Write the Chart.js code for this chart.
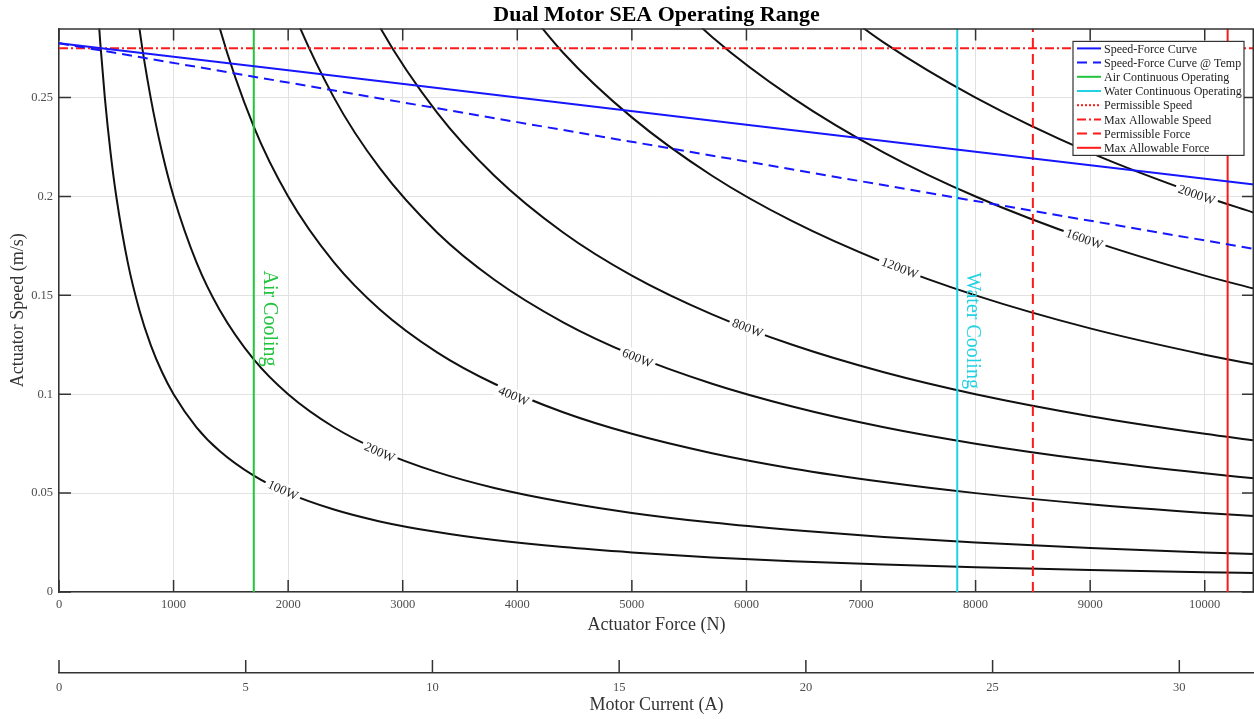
<!DOCTYPE html>
<html>
<head>
<meta charset="utf-8">
<title>Dual Motor SEA Operating Range</title>
<script src="https://cdn.jsdelivr.net/npm/chart.js@4.4.1/dist/chart.umd.min.js"></script>
<style>
  html, body { margin: 0; padding: 0; background: #fff; }
</style>
</head>
<body>
<canvas id="seaChart" width="1254" height="719"></canvas>
<script>
const SERIF = "'Liberation Serif', 'Times New Roman', serif";

// axis ranges + ticks
const forceMax = 10430;
const speedMax = 0.285;
const currentMax = 32;
const forceTicks = [0, 1000, 2000, 3000, 4000, 5000, 6000, 7000, 8000, 9000, 10000];
const speedTicks = [0, 0.05, 0.1, 0.15, 0.2, 0.25];
const currentTicks = [0, 5, 10, 15, 20, 25, 30];

// speed-force curves
const curveForce = [0, 2000, 4000, 6000, 8000, 10430];
const curveSpeed = [0.2775, 0.2638, 0.2500, 0.2363, 0.2226, 0.2060];
const curveSpeedTemp = [0.2775, 0.2576, 0.2376, 0.2177, 0.1977, 0.1735];

// limits
const airForce = 1700;
const waterForce = 7840;
const permissibleForce = 8500;
const maxForce = 10200;
const maxSpeed = 0.275;

// constant power curves
const forceGrid = [330, 360, 400, 450, 500, 600, 700, 800, 900, 1000, 1200, 1400, 1700, 2000,
  2400, 2800, 3300, 3800, 4400, 5000, 5700, 6400, 7200, 8000, 9000, 10000, 10430];
const speed100W = [0.3030, 0.2778, 0.2500, 0.2222, 0.2000, 0.1667, 0.1429, 0.1250, 0.1111, 0.1000,
  0.0833, 0.0714, 0.0588, 0.0500, 0.0417, 0.0357, 0.0303, 0.0263, 0.0227, 0.0200, 0.0175, 0.0156,
  0.0139, 0.0125, 0.0111, 0.0100, 0.0096];
const speed200W = [null, null, null, null, null, 0.3333, 0.2857, 0.2500, 0.2222, 0.2000, 0.1667,
  0.1429, 0.1176, 0.1000, 0.0833, 0.0714, 0.0606, 0.0526, 0.0455, 0.0400, 0.0351, 0.0313, 0.0278,
  0.0250, 0.0222, 0.0200, 0.0192];
const speed400W = [null, null, null, null, null, null, null, null, null, null, 0.3333, 0.2857,
  0.2353, 0.2000, 0.1667, 0.1429, 0.1212, 0.1053, 0.0909, 0.0800, 0.0702, 0.0625, 0.0556, 0.0500,
  0.0444, 0.0400, 0.0384];
const speed600W = [null, null, null, null, null, null, null, null, null, null, null, null, 0.3529,
  0.3000, 0.2500, 0.2143, 0.1818, 0.1579, 0.1364, 0.1200, 0.1053, 0.0938, 0.0833, 0.0750, 0.0667,
  0.0600, 0.0575];
const speed800W = [null, null, null, null, null, null, null, null, null, null, null, null, null,
  null, 0.3333, 0.2857, 0.2424, 0.2105, 0.1818, 0.1600, 0.1404, 0.1250, 0.1111, 0.1000, 0.0889,
  0.0800, 0.0767];
const speed1200W = [null, null, null, null, null, null, null, null, null, null, null, null, null,
  null, null, null, null, 0.3158, 0.2727, 0.2400, 0.2105, 0.1875, 0.1667, 0.1500, 0.1333, 0.1200,
  0.1151];
const speed1600W = [null, null, null, null, null, null, null, null, null, null, null, null, null,
  null, null, null, null, null, null, 0.3200, 0.2807, 0.2500, 0.2222, 0.2000, 0.1778, 0.1600,
  0.1534];
const speed2000W = [null, null, null, null, null, null, null, null, null, null, null, null, null,
  null, null, null, null, null, null, null, null, 0.3125, 0.2778, 0.2500, 0.2222, 0.2000, 0.1918];

const powerLabels = ["100W", "200W", "400W", "600W", "800W", "1200W", "1600W", "2000W"];
const powerSpeeds = [speed100W, speed200W, speed400W, speed600W, speed800W, speed1200W, speed1600W, speed2000W];
// where the in-line labels sit
const labelForce = [1955, 2800, 3970, 5050, 6010, 7340, 8950, 9930];
const labelSpeed = [0.0517, 0.0709, 0.0993, 0.1185, 0.1337, 0.1640, 0.1787, 0.2011];

const BLUE = "#1616ff";
const GREEN = "#22c43c";
const CYAN = "#22d2e4";
const RED = "#ff1a1a";

function pts(xs, ys) {
  return xs.map((x, i) => ({ x: x, y: ys[i] }));
}
function vline(x) {
  return [{ x: x, y: 0 }, { x: x, y: speedMax }];
}
function hline(y) {
  return [{ x: 0, y: y }, { x: forceMax, y: y }];
}
function line(label, data, color, dash) {
  return {
    label: label, data: data, showLine: true, borderColor: color, borderWidth: 2,
    borderDash: dash || [], pointRadius: 0, xAxisID: "x", yAxisID: "y",
  };
}

const datasets = [
  line("Speed-Force Curve", pts(curveForce, curveSpeed), BLUE),
  line("Speed-Force Curve @ Temp", pts(curveForce, curveSpeedTemp), BLUE, [10, 6]),
  line("Air Continuous Operating", vline(airForce), GREEN),
  line("Water Continuous Operating", vline(waterForce), CYAN),
  line("Permissible Speed", [], RED, [2, 2]),
  line("Max Allowable Speed", hline(maxSpeed), RED, [9, 3, 2, 3]),
  line("Permissible Force", vline(permissibleForce), RED, [10, 6]),
  line("Max Allowable Force", vline(maxForce), RED),
];
powerSpeeds.forEach((speeds, i) => {
  const ds = line(powerLabels[i], pts(forceGrid, speeds), "#111");
  ds.contour = true;
  ds.cubicInterpolationMode = "monotone";
  datasets.push(ds);
});

function setTicks(values) {
  return (scale) => {
    scale.ticks = values.map((v) => ({ value: v }));
  };
}

const tickFont = { family: SERIF, size: 12.5 };
const titleFont = { family: SERIF, size: 18 };

// box ticks, contour labels, cooling text, legend
const framePlugin = {
  id: "frame",
  afterDatasetsDraw(chart) {
    const { ctx, chartArea: a, scales } = chart;
    const x = scales.x, y = scales.y, x2 = scales.x2;
    ctx.save();

    ctx.strokeStyle = "#333";
    ctx.lineWidth = 1.5;
    ctx.beginPath();
    ctx.moveTo(a.left, a.top + 0.5);
    ctx.lineTo(a.right - 0.75, a.top + 0.5);
    ctx.lineTo(a.right - 0.75, a.bottom);
    const T = 12;
    x.ticks.forEach((t) => {
      const px = x.getPixelForValue(t.value);
      ctx.moveTo(px, a.bottom);
      ctx.lineTo(px, a.bottom - T);
      ctx.moveTo(px, a.top);
      ctx.lineTo(px, a.top + T);
    });
    y.ticks.forEach((t) => {
      const py = y.getPixelForValue(t.value);
      ctx.moveTo(a.left, py);
      ctx.lineTo(a.left + T, py);
      ctx.moveTo(a.right, py);
      ctx.lineTo(a.right - T, py);
    });
    x2.ticks.forEach((t) => {
      const px = x2.getPixelForValue(t.value);
      ctx.moveTo(px, x2.top);
      ctx.lineTo(px, x2.top - 13);
    });
    ctx.stroke();

    // contour labels
    const kx = x.getPixelForValue(1000) - x.getPixelForValue(0);
    const ky = y.getPixelForValue(0) - y.getPixelForValue(0.1);
    ctx.font = "13px " + SERIF;
    ctx.textAlign = "center";
    ctx.textBaseline = "middle";
    powerLabels.forEach((txt, i) => {
      const f = labelForce[i], v = labelSpeed[i];
      const px = x.getPixelForValue(f);
      const py = y.getPixelForValue(v);
      const ang = Math.atan(((v / f) * ky * 10) / (kx / 1000));
      const w = ctx.measureText(txt).width + 6;
      ctx.save();
      ctx.translate(px, py);
      ctx.rotate(ang);
      ctx.fillStyle = "#fff";
      ctx.fillRect(-w / 2, -7, w, 14);
      ctx.fillStyle = "#222";
      ctx.fillText(txt, 0, 1);
      ctx.restore();
    });

    // cooling text
    ctx.font = "20px " + SERIF;
    [[airForce, 0.1383, "Air Cooling", GREEN], [waterForce, 0.1322, "Water Cooling", CYAN]].forEach((c) => {
      ctx.save();
      ctx.translate(x.getPixelForValue(c[0]) + 15, y.getPixelForValue(c[1]));
      ctx.rotate(Math.PI / 2);
      ctx.fillStyle = c[3];
      ctx.fillText(c[2], 0, 0);
      ctx.restore();
    });

    // legend
    const lx = a.right - 181, ly = a.top + 13, lw = 171, lh = 114;
    ctx.fillStyle = "#fff";
    ctx.fillRect(lx, ly, lw, lh);
    ctx.strokeStyle = "#333";
    ctx.lineWidth = 1.2;
    ctx.strokeRect(lx, ly, lw, lh);
    ctx.font = "12px " + SERIF;
    ctx.textAlign = "left";
    chart.data.datasets.filter((d) => !d.contour).forEach((d, i) => {
      const ry = ly + 7 + i * 14.2;
      ctx.strokeStyle = d.borderColor;
      ctx.lineWidth = 2;
      ctx.setLineDash(d.borderDash);
      ctx.beginPath();
      ctx.moveTo(lx + 4, ry);
      ctx.lineTo(lx + 28, ry);
      ctx.stroke();
      ctx.setLineDash([]);
      ctx.fillStyle = "#222";
      ctx.fillText(d.label, lx + 31, ry + 1);
    });

    ctx.restore();
  },
};

new Chart(document.getElementById("seaChart"), {
  type: "scatter",
  data: { datasets: datasets },
  options: {
    responsive: false,
    animation: false,
    events: [],
    layout: { padding: 0 },
    plugins: {
      legend: { display: false },
      tooltip: { enabled: false },
      title: {
        display: true,
        fullSize: false,
        text: "Dual Motor SEA Operating Range",
        color: "#000",
        font: { family: SERIF, size: 22, weight: "bold" },
        padding: { top: 2, bottom: 0 },
      },
    },
    scales: {
      x: {
        type: "linear",
        position: "bottom",
        min: 0,
        max: forceMax,
        afterBuildTicks: setTicks(forceTicks),
        afterFit: (s) => { s.height = 81; },
        ticks: { color: "#4d4d4d", font: tickFont, padding: 5, maxRotation: 0, callback: (v) => String(v) },
        grid: { color: "#e2e2e2", lineWidth: 1, drawTicks: false },
        border: { color: "#333", width: 1.5 },
        title: { display: true, text: "Actuator Force (N)", color: "#333", font: titleFont, padding: { top: 0, bottom: 37 } },
      },
      x2: {
        type: "linear",
        position: "bottom",
        min: 0,
        max: currentMax,
        afterBuildTicks: setTicks(currentTicks),
        afterFit: (s) => { s.height = 46; },
        ticks: { color: "#4d4d4d", font: tickFont, padding: 7, maxRotation: 0 },
        grid: { drawOnChartArea: false, drawTicks: false },
        border: { color: "#333", width: 1.5 },
        title: { display: true, text: "Motor Current (A)", color: "#333", font: titleFont, padding: { top: 0, bottom: 3 } },
      },
      y: {
        type: "linear",
        position: "left",
        min: 0,
        max: speedMax,
        afterBuildTicks: setTicks(speedTicks),
        afterFit: (s) => { s.width = 59; },
        ticks: { color: "#4d4d4d", font: tickFont, padding: 6, callback: (v) => String(v) },
        grid: { color: "#e2e2e2", lineWidth: 1, drawTicks: false },
        border: { color: "#333", width: 1.5 },
        title: { display: true, text: "Actuator Speed (m/s)", color: "#333", font: titleFont, padding: { top: 7, bottom: 0 } },
      },
    },
  },
  plugins: [framePlugin],
});
</script>
</body>
</html>
